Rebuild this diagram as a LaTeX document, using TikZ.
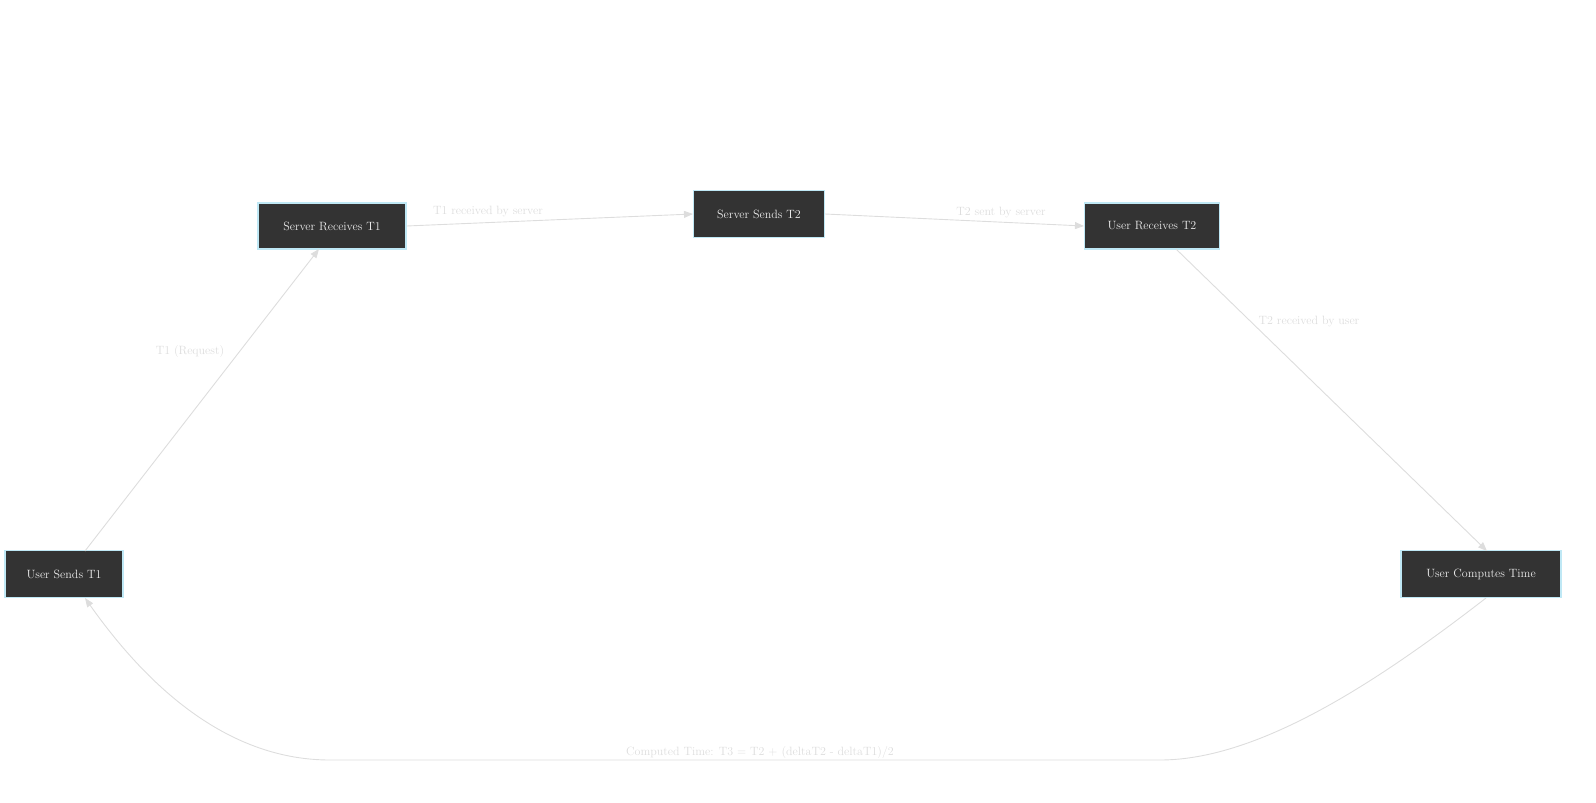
\documentclass[tikz,border=0pt]{standalone}
\usetikzlibrary{arrows.meta}
\definecolor{boxfill}{HTML}{333333}
\definecolor{boxline}{HTML}{BFE8F5}
\definecolor{edge}{HTML}{DDDDDD}
\definecolor{lbl}{HTML}{DDDDDD}
\begin{document}
\begin{tikzpicture}[x=1pt,y=-1pt,
  box/.style={draw=boxline,line width=1.1pt,fill=boxfill,text=white!92!black,font=\fontsize{12}{14}\selectfont,inner sep=0pt,anchor=center},
  conn/.style={draw=edge,line width=0.9pt,-{Triangle[length=9pt,width=7pt]}},
  elab/.style={text=lbl,font=\fontsize{12}{14}\selectfont}]
\useasboundingbox (0,0) rectangle (1596,803);
\node[box,minimum width=118pt,minimum height=47pt] (a) at (64,574) {User Sends T1};
\node[box,minimum width=148pt,minimum height=46pt] (b) at (332,226) {Server Receives T1};
\node[box,minimum width=131pt,minimum height=47pt] (c) at (759,214) {Server Sends T2};
\node[box,minimum width=135pt,minimum height=46pt] (d) at (1152,226) {User Receives T2};
\node[box,minimum width=160pt,minimum height=47pt] (e) at (1481,574) {User Computes Time};
\coordinate (a1) at (85,551);
\coordinate (b1) at (319,249);
\coordinate (d1) at (1176,249);
\coordinate (e0) at (1487,551);
\coordinate (e1) at (1486,598);
\coordinate (a2) at (85,598);
\draw[conn] (a1) -- (b1);
\draw[conn] (b.east) -- (c.west);
\draw[conn] (c.east) -- (d.west);
\draw[conn] (d1) -- (e0);
\draw[conn] (e1) .. controls (1380,680) and (1260,760) .. (1160,760) -- (330,760) .. controls (230,760) and (150,690) .. (a2);
\node[elab] (l1) at (190,352) {T1 (Request)};
\node[elab] (l2) at (488,212) {T1 received by server};
\node[elab] (l3) at (1001,213) {T2 sent by server};
\node[elab] (l4) at (1309,322) {T2 received by user};
\node[elab] (l5) at (760,752) {Computed Time: T3 = T2 + (deltaT2 - deltaT1)/2};
\end{tikzpicture}
\end{document}
